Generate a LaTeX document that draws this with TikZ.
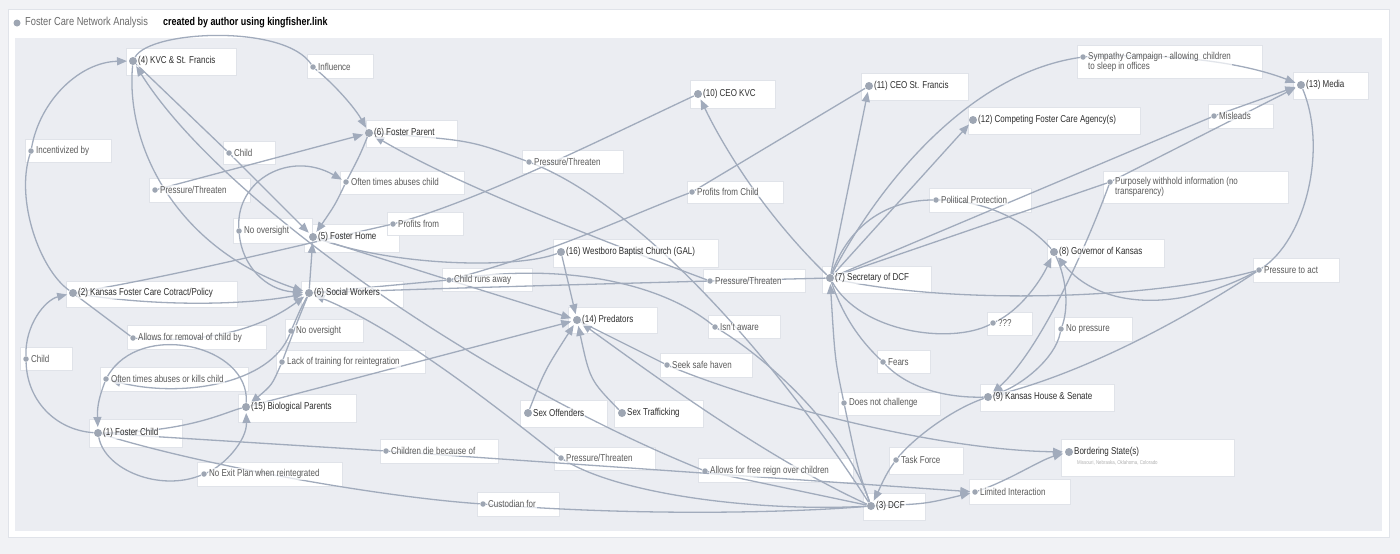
\documentclass[tikz,border=0pt]{standalone}
\usepackage{fontspec}
\setmainfont{Liberation Sans}[FakeStretch=0.8]
\usetikzlibrary{arrows.meta}
\definecolor{pagebg}{HTML}{F1F2F5}
\definecolor{canvas}{HTML}{EBEDF2}
\definecolor{edgec}{HTML}{A1ABBC}
\definecolor{dotc}{HTML}{9EA6B3}
\definecolor{boxline}{HTML}{E0E3E9}
\definecolor{maintxt}{HTML}{2E2E2E}
\definecolor{labtxt}{HTML}{5A5A5A}
\definecolor{hdrtxt}{HTML}{6B6B6B}
\definecolor{subtxt}{HTML}{B0B0B0}
\pgfdeclarelayer{boxlayer}
\pgfdeclarelayer{edgelayer}
\pgfsetlayers{boxlayer,edgelayer,main}
\tikzset{
 boxst/.style={draw=boxline, fill=white, inner sep=0pt, outer sep=0pt, line width=0.6pt},
 mdot/.style={circle, fill=dotc, minimum size=8pt, inner sep=0pt, outer sep=0.5pt},
 ldot/.style={circle, fill=dotc, minimum size=5.5pt, inner sep=0pt, outer sep=0.5pt},
 txtbase/.style={anchor=west, inner sep=1pt, fill=white, fill opacity=0.7, text opacity=1, font=\fontsize{10}{10}\selectfont},
 mtext/.style={txtbase, text=maintxt},
 ltext/.style={txtbase, text=labtxt},
 conn/.style={draw=edgec, line width=1.3pt},
 arr/.style={conn, -{Triangle[length=10pt,width=8pt]}, shorten >=1.5pt},
}
\newcommand{\entity}[8]{%
 \begin{pgfonlayer}{boxlayer}
 \node[boxst, minimum width={#6-#4}, minimum height={#7-#5}] (#1-box) at ({(#4+#6)/2},{(#5+#7)/2}) {};
 \end{pgfonlayer}
 \node[mdot] (#1) at (#2,#3) {};
 \node[mtext] (#1-txt) at ({#2+4},#3) {#8};}
\newcommand{\relnode}[8]{%
 \begin{pgfonlayer}{boxlayer}
 \node[boxst, minimum width={#6-#4}, minimum height={#7-#5}] (#1-box) at ({(#4+#6)/2},{(#5+#7)/2}) {};
 \end{pgfonlayer}
 \node[ldot] (#1) at (#2,#3) {};
 \node[ltext] (#1-txt) at ({#2+4},#3) {#8};}
\begin{document}
\begin{tikzpicture}[x=1pt,y=-1pt]
\useasboundingbox (0,0) rectangle (1400,554);
\begin{pgfonlayer}{boxlayer}
\fill[pagebg] (0,0) rectangle (1400,554);
\filldraw[fill=white, draw=boxline] (8,9) rectangle (1389,537);
\fill[canvas] (15,38) rectangle (1382,531);
\end{pgfonlayer}
% header
\node[circle, fill=dotc, minimum size=7pt, inner sep=0pt] (hdot) at (17,23) {};
\node[anchor=west, inner sep=0pt, text=hdrtxt, font=\fontsize{11.6}{11.6}\selectfont] (title) at (25,23) {Foster Care Network Analysis};
\node[anchor=west, inner sep=0pt, text=black, font=\bfseries\fontsize{11.2}{11.2}\selectfont] (credit) at (163,23) {created by author using kingfisher.link};
% main entities
\entity{n4}{133}{61}{126}{48}{236}{75}{(4) KVC \& St. Francis}
\entity{fp}{369}{133}{366}{120}{457}{147}{(6) Foster Parent}
\entity{n5}{313}{237}{304}{224}{399}{252}{(5) Foster Home}
\entity{n2}{73}{293}{66}{281}{237}{307}{(2) Kansas Foster Care Cotract/Policy}
\entity{sw}{309}{293}{301}{281}{403}{307}{(6) Social Workers}
\entity{n15}{246}{407}{238}{394}{356}{422}{(15) Biological Parents}
\entity{n1}{98}{433}{89}{419}{182}{447}{(1) Foster Child}
\entity{n10}{698}{94}{690}{80}{775}{108}{(10) CEO KVC}
\entity{n11}{869}{86}{861}{73}{968}{100}{(11) CEO St. Francis}
\entity{n16}{561}{252}{553}{239}{718}{267}{(16) Westboro Baptist Church (GAL)}
\entity{n7}{830}{278}{822}{266}{931}{293}{(7) Secretary of DCF}
\entity{n14}{577}{320}{568}{307}{657}{333}{(14) Predators}
\entity{n3}{871}{506}{863}{493}{925}{520}{(3) DCF}
\entity{n12}{973}{120}{968}{107}{1140}{134}{(12) Competing Foster Care Agency(s)}
\entity{n13}{1301}{85}{1293}{72}{1368}{99}{(13) Media}
\entity{n8}{1054}{252}{1047}{239}{1164}{267}{(8) Governor of Kansas}
\entity{n9}{988}{397}{980}{384}{1114}{411}{(9) Kansas House \& Senate}
\entity{sexo}{528}{413}{520}{400}{607}{427}{Sex Offenders}
\entity{sext}{622}{413}{614}{400}{703}{427}{Sex Trafficking}
\entity{bs}{1069}{452}{1061}{439}{1234}{476}{Bordering State(s)}
\node[anchor=west, inner sep=0pt, text=subtxt, font=\fontsize{5.5}{5.5}\selectfont] (bs-sub) at (1077,463) {Missouri, Nebraska, Oklahoma, Colorado};
% relation labels
\relnode{influence}{313}{67}{307}{54}{373}{78}{Influence}
\relnode{incent}{31}{151}{25}{139}{111}{162}{Incentivized by}
\relnode{childa}{229}{153}{223}{141}{275}{164}{Child}
\relnode{pta}{155}{190}{149}{178}{250}{202}{Pressure/Threaten}
\relnode{often}{346}{182}{340}{171}{464}{194}{Often times abuses child}
\relnode{noova}{239}{231}{233}{218}{312}{243}{No oversight}
\relnode{profits}{393}{224}{387}{212}{463}{235}{Profits from}
\relnode{removal}{133}{338}{127}{325}{266}{349}{Allows for removal of child by}
\relnode{noovb}{291}{331}{285}{319}{363}{342}{No oversight}
\relnode{childb}{26}{359}{20}{347}{72}{370}{Child}
\relnode{lack}{282}{362}{276}{350}{425}{373}{Lack of training for reintegration}
\relnode{kills}{106}{379}{100}{367}{248}{391}{Often times abuses or kills child}
\relnode{die}{386}{451}{380}{439}{498}{463}{Children die because of}
\relnode{noexit}{204}{474}{197}{462}{342}{486}{No Exit Plan when reintegrated}
\relnode{ptb}{529}{162}{522}{150}{623}{173}{Pressure/Threaten}
\relnode{pfc}{692}{192}{687}{181}{783}{203}{Profits from Child}
\relnode{ptc}{710}{281}{703}{269}{805}{292}{Pressure/Threaten}
\relnode{runs}{449}{280}{442}{268}{532}{291}{Child runs away}
\relnode{isnt}{715}{327}{708}{315}{780}{338}{Isn't aware}
\relnode{seek}{667}{365}{660}{353}{752}{377}{Seek safe haven}
\relnode{fears}{883}{362}{877}{350}{930}{373}{Fears}
\relnode{dnc}{844}{403}{838}{392}{940}{415}{Does not challenge}
\relnode{ptd}{561}{458}{554}{447}{655}{470}{Pressure/Threaten}
\relnode{free}{705}{471}{698}{458}{853}{482}{Allows for free reign over children}
\relnode{cust}{483}{504}{477}{492}{559}{516}{Custodian for}
\relnode{task}{896}{460}{889}{447}{963}{474}{Task Force}
\relnode{mis}{1214}{116}{1208}{104}{1273}{128}{Misleads}
\relnode{pp}{936}{200}{929}{188}{1031}{212}{Political Protection}
\relnode{ptoact}{1259}{270}{1253}{258}{1339}{282}{Pressure to act}
\relnode{qqq}{993}{323}{987}{312}{1032}{335}{???}
\relnode{nop}{1061}{329}{1054}{317}{1132}{341}{No pressure}
\relnode{lim}{975}{492}{969}{479}{1070}{504}{Limited Interaction}
\begin{pgfonlayer}{boxlayer}
\node[boxst, minimum width=185, minimum height=33] (symp-box) at (1169.5,61.5) {};
\node[boxst, minimum width=185, minimum height=32] (purp-box) at (1195.5,187) {};
\end{pgfonlayer}
\node[ldot] (symp) at (1083,57) {};
\node[ltext, anchor=north west, align=left] (symp-txt) at (1087,51) {Sympathy Campaign - allowing\ \ children\\to sleep in offices};
\node[ldot] (purp) at (1110,182) {};
\node[ltext, anchor=north west, align=left] (purp-txt) at (1114,176) {Purposely withhold information (no\\transparency)};
\begin{pgfonlayer}{edgelayer}
% ---- connectors: left cluster
\draw[arr] (n2) .. controls (40,270) and (15,200) .. (incent) .. controls (40,100) and (80,62) .. (n4);
\draw[arr] (n4) .. controls (150,30) and (285,24) .. (influence) .. controls (335,85) and (355,108) .. (fp);
\draw[arr] (n4) -- (childa) -- (n5);
\draw[arr] (n3) -- (free) .. controls (480,380) and (220,200) .. (n4);
\draw[arr] (n4) .. controls (125,150) and (180,250) .. (sw);
\draw[arr] (pta) -- (fp);
\draw[arr] (fp) .. controls (360,155) .. (often) .. controls (335,205) .. (n5);
\draw[arr] (noova) .. controls (236,180) and (290,150) .. (often);
\draw[arr] (noova) .. controls (242,265) and (265,290) .. (sw);
\draw[arr] (sw) -- (n5);
\draw[conn] (n2) -- (removal);
\draw[arr] (removal) .. controls (220,345) and (270,322) .. (sw);
\draw[arr] (n2) .. controls (150,306) and (240,306) .. (sw);
\draw[conn] (n2) .. controls (180,275) and (300,245) .. (profits) .. controls (480,200) and (600,140) .. (n10);
\draw[arr] (n7) -- (ptc) .. controls (560,225) and (450,180) .. (fp);
\draw[conn] (ptc) .. controls (600,284) and (450,288) .. (sw);
\draw[conn] (n3) .. controls (790,380) and (650,210) .. (ptb) .. controls (470,140) .. (fp);
\draw[arr] (n3) .. controls (760,512) and (620,495) .. (ptd) .. controls (500,410) and (400,330) .. (sw);
\draw[arr] (n1) -- (die) -- (lim);
\draw[conn] (n1) .. controls (200,465) and (380,497) .. (cust) .. controls (650,517) and (800,512) .. (n3);
\draw[arr] (n1) .. controls (105,470) and (160,492) .. (noexit) .. controls (225,465) and (247,440) .. (n15);
\draw[arr] (n15) .. controls (250,345) and (140,320) .. (kills) .. controls (100,395) and (97,405) .. (n1);
\draw[arr] (sw) .. controls (300,310) .. (noovb) .. controls (270,385) and (180,398) .. (kills);
\draw[arr] (sw) .. controls (298,320) .. (lack) .. controls (272,385) .. (n15);
\draw[conn] (n1) .. controls (190,432) and (225,412) .. (n15);
\draw[arr] (n15) -- (n14);
\draw[arr] (n1) .. controls (55,430) and (27,400) .. (childb) .. controls (25,325) and (45,300) .. (n2);
% ---- middle
\draw[conn] (n5) -- (runs);
\draw[conn] (sw) -- (runs);
\draw[arr] (runs) -- (n14);
\draw[conn] (runs) .. controls (560,250) and (630,215) .. (pfc) -- (n11);
\draw[conn] (n5) .. controls (400,268) and (520,268) .. (n16);
\draw[arr] (n16) -- (n14);
\draw[conn] (runs) .. controls (560,262) and (660,282) .. (isnt) .. controls (770,360) and (845,430) .. (n3);
\draw[conn] (n14) -- (seek);
\draw[arr] (seek) .. controls (750,400) and (930,450) .. (bs);
\draw[arr] (n3) .. controls (770,460) and (660,380) .. (n14);
\draw[arr] (sexo) .. controls (545,370) .. (n14);
\draw[arr] (sext) .. controls (590,380) .. (n14);
% ---- right cluster
\draw[arr] (n7) .. controls (760,210) and (720,140) .. (n10);
\draw[arr] (n7) -- (n11);
\draw[arr] (n7) .. controls (870,200) and (960,75) .. (symp) .. controls (1180,52) and (1250,65) .. (n13);
\draw[arr] (n7) -- (n12);
\draw[conn] (n7) .. controls (850,222) and (890,200) .. (pp) .. controls (990,200) and (1030,225) .. (n8);
\draw[arr] (n7) -- (mis) -- (n13);
\draw[conn] (n7) -- (purp);
\draw[arr] (purp) -- (n13);
\draw[arr] (purp) .. controls (1085,250) and (1040,350) .. (n9);
\draw[conn] (n7) .. controls (950,305) and (1150,300) .. (ptoact);
\draw[conn] (ptoact) .. controls (1305,240) and (1328,150) .. (n13);
\draw[arr] (ptoact) .. controls (1180,312) and (1100,310) .. (n8);
\draw[conn] (ptoact) .. controls (1180,322) and (1080,375) .. (n9);
\draw[arr] (n7) .. controls (860,332) and (950,345) .. (qqq) .. controls (1020,310) and (1040,282) .. (n8);
\draw[arr] (n8) .. controls (1068,282) and (1068,310) .. (nop) .. controls (1055,360) and (1020,385) .. (n9);
\draw[conn] (n7) .. controls (845,322) and (865,345) .. (fears) .. controls (910,390) and (950,398) .. (n9);
\draw[arr] (n9) .. controls (950,410) and (912,440) .. (task) .. controls (885,475) and (880,488) .. (n3);
\draw[arr] (n3) .. controls (858,470) .. (dnc) .. controls (835,360) .. (n7);
\draw[arr] (n3) .. controls (925,504) .. (lim);
\draw[arr] (lim) .. controls (1010,480) and (1040,460) .. (bs);
\end{pgfonlayer}
\end{tikzpicture}
\end{document}
